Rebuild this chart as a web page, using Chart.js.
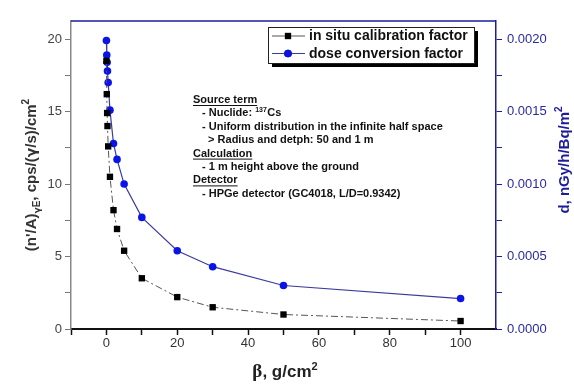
<!DOCTYPE html>
<html>
<head>
<meta charset="utf-8">
<script src="https://cdn.jsdelivr.net/npm/chart.js@4.4.1/dist/chart.umd.min.js"></script>
<style>
	body{margin:0;background:#fff;}
</style>
</head>
<body>
<canvas id="betaChart" width="574" height="385"></canvas>
<script>
// beta (g/cm2) and the two factors
var beta = [0, 0.1, 0.2, 0.3, 0.5, 1, 2, 3, 5, 10, 20, 30, 50, 100];
var calibFactor = [18.5, 16.2, 14.9, 14.0, 12.6, 10.5, 8.2, 6.9, 5.4, 3.5, 2.2, 1.5, 1.0, 0.55];
var doseFactor = [0.00199, 0.00189, 0.00184, 0.00178, 0.00170, 0.00151, 0.00128, 0.00117, 0.00100, 0.00077, 0.00054, 0.00043, 0.00030, 0.00021];
var seriesLabels = ['in situ calibration factor', 'dose conversion factor'];

var xTickLabels = [0, 20, 40, 60, 80, 100];
var leftTickLabels = [0, 5, 10, 15, 20];
var rightTickLabels = [0, 0.0005, 0.0010, 0.0015, 0.0020];

var noteLines = [
	{text: 'Source term', head: true},
	{text: '- Nuclide: ', sup: '137', after: 'Cs'},
	{text: '- Uniform distribution in the infinite half space'},
	{text: '  > Radius and detph: 50 and 1 m'},
	{text: 'Calculation', head: true},
	{text: '- 1 m height above the ground'},
	{text: 'Detector', head: true},
	{text: '- HPGe detector (GC4018, L/D=0.9342)'}
];

function pairs(xs, ys){
	var out = [];
	for (var i = 0; i < xs.length; i++) out.push({x: xs[i], y: ys[i]});
	return out;
}

function stepTicks(from, to, step){
	var t = [];
	for (var v = from; v <= to + step / 1000; v += step) t.push({value: Math.round(v / step) * step});
	return t;
}

function hasTick(list, v){
	for (var i = 0; i < list.length; i++) if (Math.abs(list[i] - v) < 1e-9) return true;
	return false;
}

// draw a run of text pieces, each with own size and vertical shift
function richText(ctx, pieces, x, y, family){
	var w = 0;
	pieces.forEach(function(p){
		ctx.font = 'bold ' + p.size + 'px ' + (p.family || family);
		w += ctx.measureText(p.t).width;
	});
	var cx = x - w / 2;
	pieces.forEach(function(p){
		ctx.font = 'bold ' + p.size + 'px ' + (p.family || family);
		ctx.fillText(p.t, cx, y + (p.dy || 0));
		cx += ctx.measureText(p.t).width;
	});
}

var decor = {
	id: 'decor',
	afterDraw: function(chart){
		var ctx = chart.ctx;
		var area = chart.chartArea;
		var sans = '"Liberation Sans", Arial, sans-serif';
		ctx.save();

		// top frame line
		ctx.strokeStyle = '#1d1d9c';
		ctx.lineWidth = 1.5;
		ctx.beginPath();
		ctx.moveTo(area.left, area.top);
		ctx.lineTo(area.right, area.top);
		ctx.stroke();

		// legend box with shadow
		var lx = 268, ly = 27, lw = 206, lh = 36;
		ctx.fillStyle = '#000';
		ctx.fillRect(lx + 4, ly + 4, lw, lh);
		ctx.fillStyle = '#fff';
		ctx.fillRect(lx, ly, lw, lh);
		ctx.strokeStyle = '#222';
		ctx.lineWidth = 1;
		ctx.strokeRect(lx + 0.5, ly + 0.5, lw, lh);
		chart.data.datasets.forEach(function(ds, i){
			var ry = ly + 9 + i * 17.5;
			ctx.strokeStyle = ds.borderColor;
			ctx.lineWidth = 1;
			ctx.setLineDash([]);
			ctx.beginPath();
			ctx.moveTo(lx + 4, ry);
			ctx.lineTo(lx + 37, ry);
			ctx.stroke();
			Chart.helpers.drawPoint(ctx, {pointStyle: ds.pointStyle, radius: ds.pointRadius, borderWidth: 0}, lx + 20, ry);
			ctx.fillStyle = ds.pointBackgroundColor;
			ctx.fill();
			ctx.fillStyle = '#111';
			ctx.font = 'bold 14px ' + sans;
			ctx.textBaseline = 'middle';
			ctx.fillText(ds.label, lx + 41, ry + 0.5);
		});

		// note text
		ctx.textBaseline = 'alphabetic';
		ctx.fillStyle = '#111';
		var nx = 193, ny = 103;
		var nf = 'bold 11px ' + sans;
		noteLines.forEach(function(l, i){
			var y = ny + i * 13.4;
			var x = l.head ? nx : nx + 9;
			ctx.font = nf;
			ctx.fillText(l.text, x, y);
			var w = ctx.measureText(l.text).width;
			if (l.head){
				ctx.strokeStyle = '#111';
				ctx.lineWidth = 1;
				ctx.beginPath();
				ctx.moveTo(x, y + 2.5);
				ctx.lineTo(x + w, y + 2.5);
				ctx.stroke();
			}
			if (l.sup){
				ctx.font = 'bold 7px ' + sans;
				ctx.fillText(l.sup, x + w, y - 4.5);
				var sw = ctx.measureText(l.sup).width;
				ctx.font = nf;
				ctx.fillText(l.after, x + w + sw + 0.5, y);
			}
		});

		// left axis title
		ctx.save();
		ctx.translate(36, 175);
		ctx.rotate(-Math.PI / 2);
		ctx.fillStyle = '#333';
		richText(ctx, [
			{t: "(n'/A)", size: 15},
			{t: 'γ', size: 9, dy: 4, family: '"DejaVu Sans", sans-serif'},
			{t: 'E', size: 10, dy: 4},
			{t: ', cps/(', size: 15},
			{t: 'γ', size: 14, family: '"DejaVu Sans", sans-serif'},
			{t: '/s)/cm', size: 15},
			{t: '2', size: 10, dy: -7}
		], 0, 0, sans);
		ctx.restore();

		// right axis title
		ctx.save();
		ctx.translate(569, 160);
		ctx.rotate(-Math.PI / 2);
		ctx.fillStyle = '#1d1d9c';
		richText(ctx, [
			{t: 'd, nGy/h/Bq/m', size: 15},
			{t: '2', size: 10, dy: -7}
		], 0, 0, sans);
		ctx.restore();

		// x axis title
		ctx.fillStyle = '#222';
		richText(ctx, [
			{t: 'β', size: 19, family: '"Liberation Serif", serif'},
			{t: ', g/cm', size: 17},
			{t: '2', size: 11, dy: -7}
		], 285, 377, sans);

		ctx.restore();
	}
};

new Chart('betaChart', {
	type: 'line',
	data: {
		datasets: [{
			label: seriesLabels[0],
			data: pairs(beta, calibFactor),
			yAxisID: 'y',
			borderColor: '#555',
			borderWidth: 1,
			borderDash: [7, 3, 2, 3],
			pointStyle: 'rect',
			pointRadius: 4.5,
			pointBorderWidth: 0,
			pointBackgroundColor: '#000',
			fill: false
		}, {
			label: seriesLabels[1],
			data: pairs(beta, doseFactor),
			yAxisID: 'y2',
			borderColor: '#3a3a9e',
			borderWidth: 1.2,
			pointStyle: 'circle',
			pointRadius: 3.8,
			pointBorderWidth: 0,
			pointBackgroundColor: '#0a14e6',
			fill: false
		}]
	},
	options: {
		responsive: false,
		animation: false,
		layout: {padding: {top: 21, left: 0, right: 0, bottom: 0}},
		plugins: {legend: {display: false}, tooltip: {enabled: false}},
		scales: {
			x: {
				type: 'linear',
				min: -10,
				max: 110,
				afterBuildTicks: function(s){ s.ticks = stepTicks(-10, 100, 10); },
				afterFit: function(s){ s.height = 56; },
				grid: {drawOnChartArea: false, tickLength: 6, tickColor: '#111', tickWidth: 1.5},
				border: {color: '#111', width: 2},
				ticks: {
					color: '#333',
					padding: 1,
					maxRotation: 0,
					autoSkip: false,
					font: {family: '"Liberation Sans", Arial, sans-serif', size: 13},
					callback: function(v){ return hasTick(xTickLabels, v) ? String(v) : ''; }
				}
			},
			y: {
				position: 'left',
				min: 0,
				max: 21.25,
				afterBuildTicks: function(s){ s.ticks = stepTicks(0, 20, 2.5); },
				afterFit: function(s){ s.width = 71; },
				grid: {drawOnChartArea: false, tickLength: 6, tickColor: '#777', tickWidth: 1},
				border: {color: '#888', width: 1.5},
				ticks: {
					color: '#444',
					padding: 3,
					autoSkip: false,
					font: {family: '"Liberation Sans", Arial, sans-serif', size: 13},
					callback: function(v){ return hasTick(leftTickLabels, v) ? String(v) : ''; }
				}
			},
			y2: {
				position: 'right',
				min: 0,
				max: 0.002125,
				afterBuildTicks: function(s){ s.ticks = stepTicks(0, 0.002, 0.00025); },
				afterFit: function(s){ s.width = 78; },
				grid: {drawOnChartArea: false, tickLength: 6, tickColor: '#1d1d9c', tickWidth: 1},
				border: {color: '#1d1d9c', width: 1.5},
				ticks: {
					color: '#2a2aa0',
					padding: 5,
					autoSkip: false,
					font: {family: '"Liberation Sans", Arial, sans-serif', size: 13},
					callback: function(v){ return hasTick(rightTickLabels, v) ? v.toFixed(4) : ''; }
				}
			}
		}
	},
	plugins: [decor]
});
</script>
</body>
</html>
